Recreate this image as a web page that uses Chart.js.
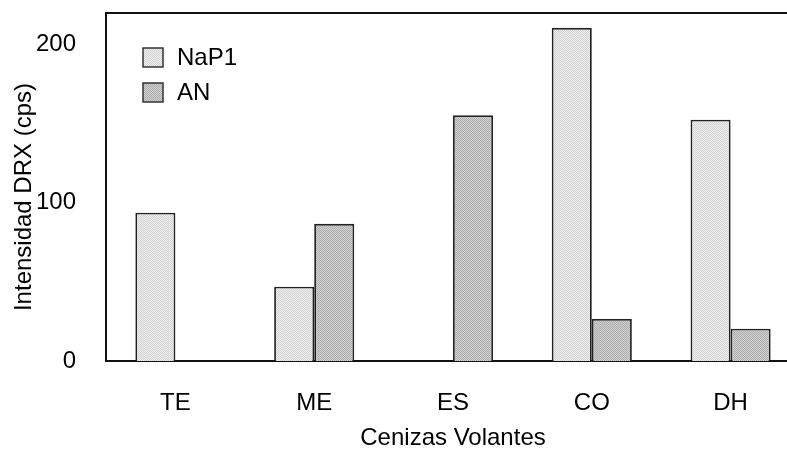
<!DOCTYPE html>
<html>
<head>
<meta charset="utf-8">
<script src="https://cdn.jsdelivr.net/npm/chart.js@4"></script>
<style>
  html, body { margin: 0; padding: 0; background: #fff; overflow: hidden; }
  #wrap { width: 787px; height: 450px; overflow: hidden; }
  #box { width: 800px; height: 450px; }
</style>
</head>
<body>
<div id="wrap"><div id="box"><canvas id="bar-chart"></canvas></div></div>
<script>
const categories = ['TE', 'ME', 'ES', 'CO', 'DH']
const nap1Values = [93.7, 47, null, 210.6, 152.5]
const anValues = [null, 86.7, 155.3, 26.6, 20.4]
const seriesLabels = ['NaP1', 'AN']
const yTicks = [0, 100, 200]

const fontFamily = '"Liberation Sans", Arial, sans-serif'

function makePattern (light, dark, diagonal) {
  const c = document.createElement('canvas')
  c.width = 4
  c.height = 4
  const g = c.getContext('2d')
  g.fillStyle = light
  g.fillRect(0, 0, 4, 4)
  g.fillStyle = dark
  for (let y = 0; y < 4; y++) {
    for (let x = 0; x < 4; x++) {
      if (diagonal ? (x + y) % 4 < 2 : (x + y) % 2 === 0) g.fillRect(x, y, 1, 1)
    }
  }
  return g.createPattern(c, 'repeat')
}

const ctx = document.getElementById('bar-chart').getContext('2d')
const nap1Fill = makePattern('#f0f0f0', '#d0d0d0', false)
const anFill = makePattern('#d2d2d2', '#acacac', false)

// legend drawn inside the plot, top left
const innerLegend = {
  id: 'innerLegend',
  afterDraw (chart) {
    const c = chart.ctx
    const area = chart.chartArea
    c.save()
    c.font = '24px ' + fontFamily
    c.textBaseline = 'middle'
    chart.data.datasets.forEach(function (ds, i) {
      const x = area.left + 37
      const y = area.top + 35 + i * 35
      c.fillStyle = ds.backgroundColor
      c.fillRect(x, y, 20, 19)
      c.strokeStyle = '#333'
      c.lineWidth = 1.5
      c.strokeRect(x, y, 20, 19)
      c.fillStyle = '#000'
      c.fillText(ds.label, x + 34, y + 10)
    })
    // top frame line
    c.strokeStyle = '#111'
    c.lineWidth = 2
    c.beginPath()
    c.moveTo(area.left, area.top)
    c.lineTo(chart.width, area.top)
    c.stroke()
    c.restore()
  },
}

const config = {
  type: 'bar',
  data: {
    labels: categories,
    datasets: [
      {
        label: seriesLabels[0],
        data: nap1Values,
        backgroundColor: nap1Fill,
        borderColor: '#222',
        borderWidth: 1.8,
        borderSkipped: 'bottom',
      },
      {
        label: seriesLabels[1],
        data: anValues,
        backgroundColor: anFill,
        borderColor: '#222',
        borderWidth: 1.8,
        borderSkipped: 'bottom',
      },
    ],
  },
  options: {
    responsive: true,
    maintainAspectRatio: false,
    animation: false,
    categoryPercentage: 0.577,
    barPercentage: 1,
    layout: {
      padding: { top: 13, left: 0, right: 0, bottom: 0 },
    },
    plugins: {
      legend: { display: false },
      tooltip: { enabled: false },
    },
    scales: {
      x: {
        grid: { display: false, drawTicks: false },
        border: { display: true, color: '#111', width: 2 },
        ticks: {
          padding: 30,
          color: '#000',
          font: { family: fontFamily, size: 24, lineHeight: 1 },
        },
        title: {
          display: true,
          text: 'Cenizas Volantes',
          color: '#000',
          padding: { top: 0, bottom: 0 },
          font: { family: fontFamily, size: 24, lineHeight: 1 },
        },
        afterFit: function (scale) {
          scale.height = 89
        },
      },
      y: {
        min: 0,
        max: 220,
        grid: { display: false, drawTicks: false },
        border: { display: true, color: '#111', width: 2 },
        afterBuildTicks: function (scale) {
          scale.ticks = yTicks.map(function (v) { return { value: v } })
        },
        ticks: {
          padding: 30,
          color: '#000',
          font: { family: fontFamily, size: 24, lineHeight: 1 },
        },
        title: {
          display: true,
          text: 'Intensidad DRX (cps)   ',
          color: '#000',
          padding: { top: 12, bottom: 0 },
          font: { family: fontFamily, size: 24, lineHeight: 1 },
        },
        afterFit: function (scale) {
          scale.width = 106
          scale.paddingTop = 0
          scale.paddingBottom = 0
        },
      },
    },
  },
  plugins: [innerLegend],
}

const myChart = new Chart(ctx, config)
</script>
</body>
</html>
